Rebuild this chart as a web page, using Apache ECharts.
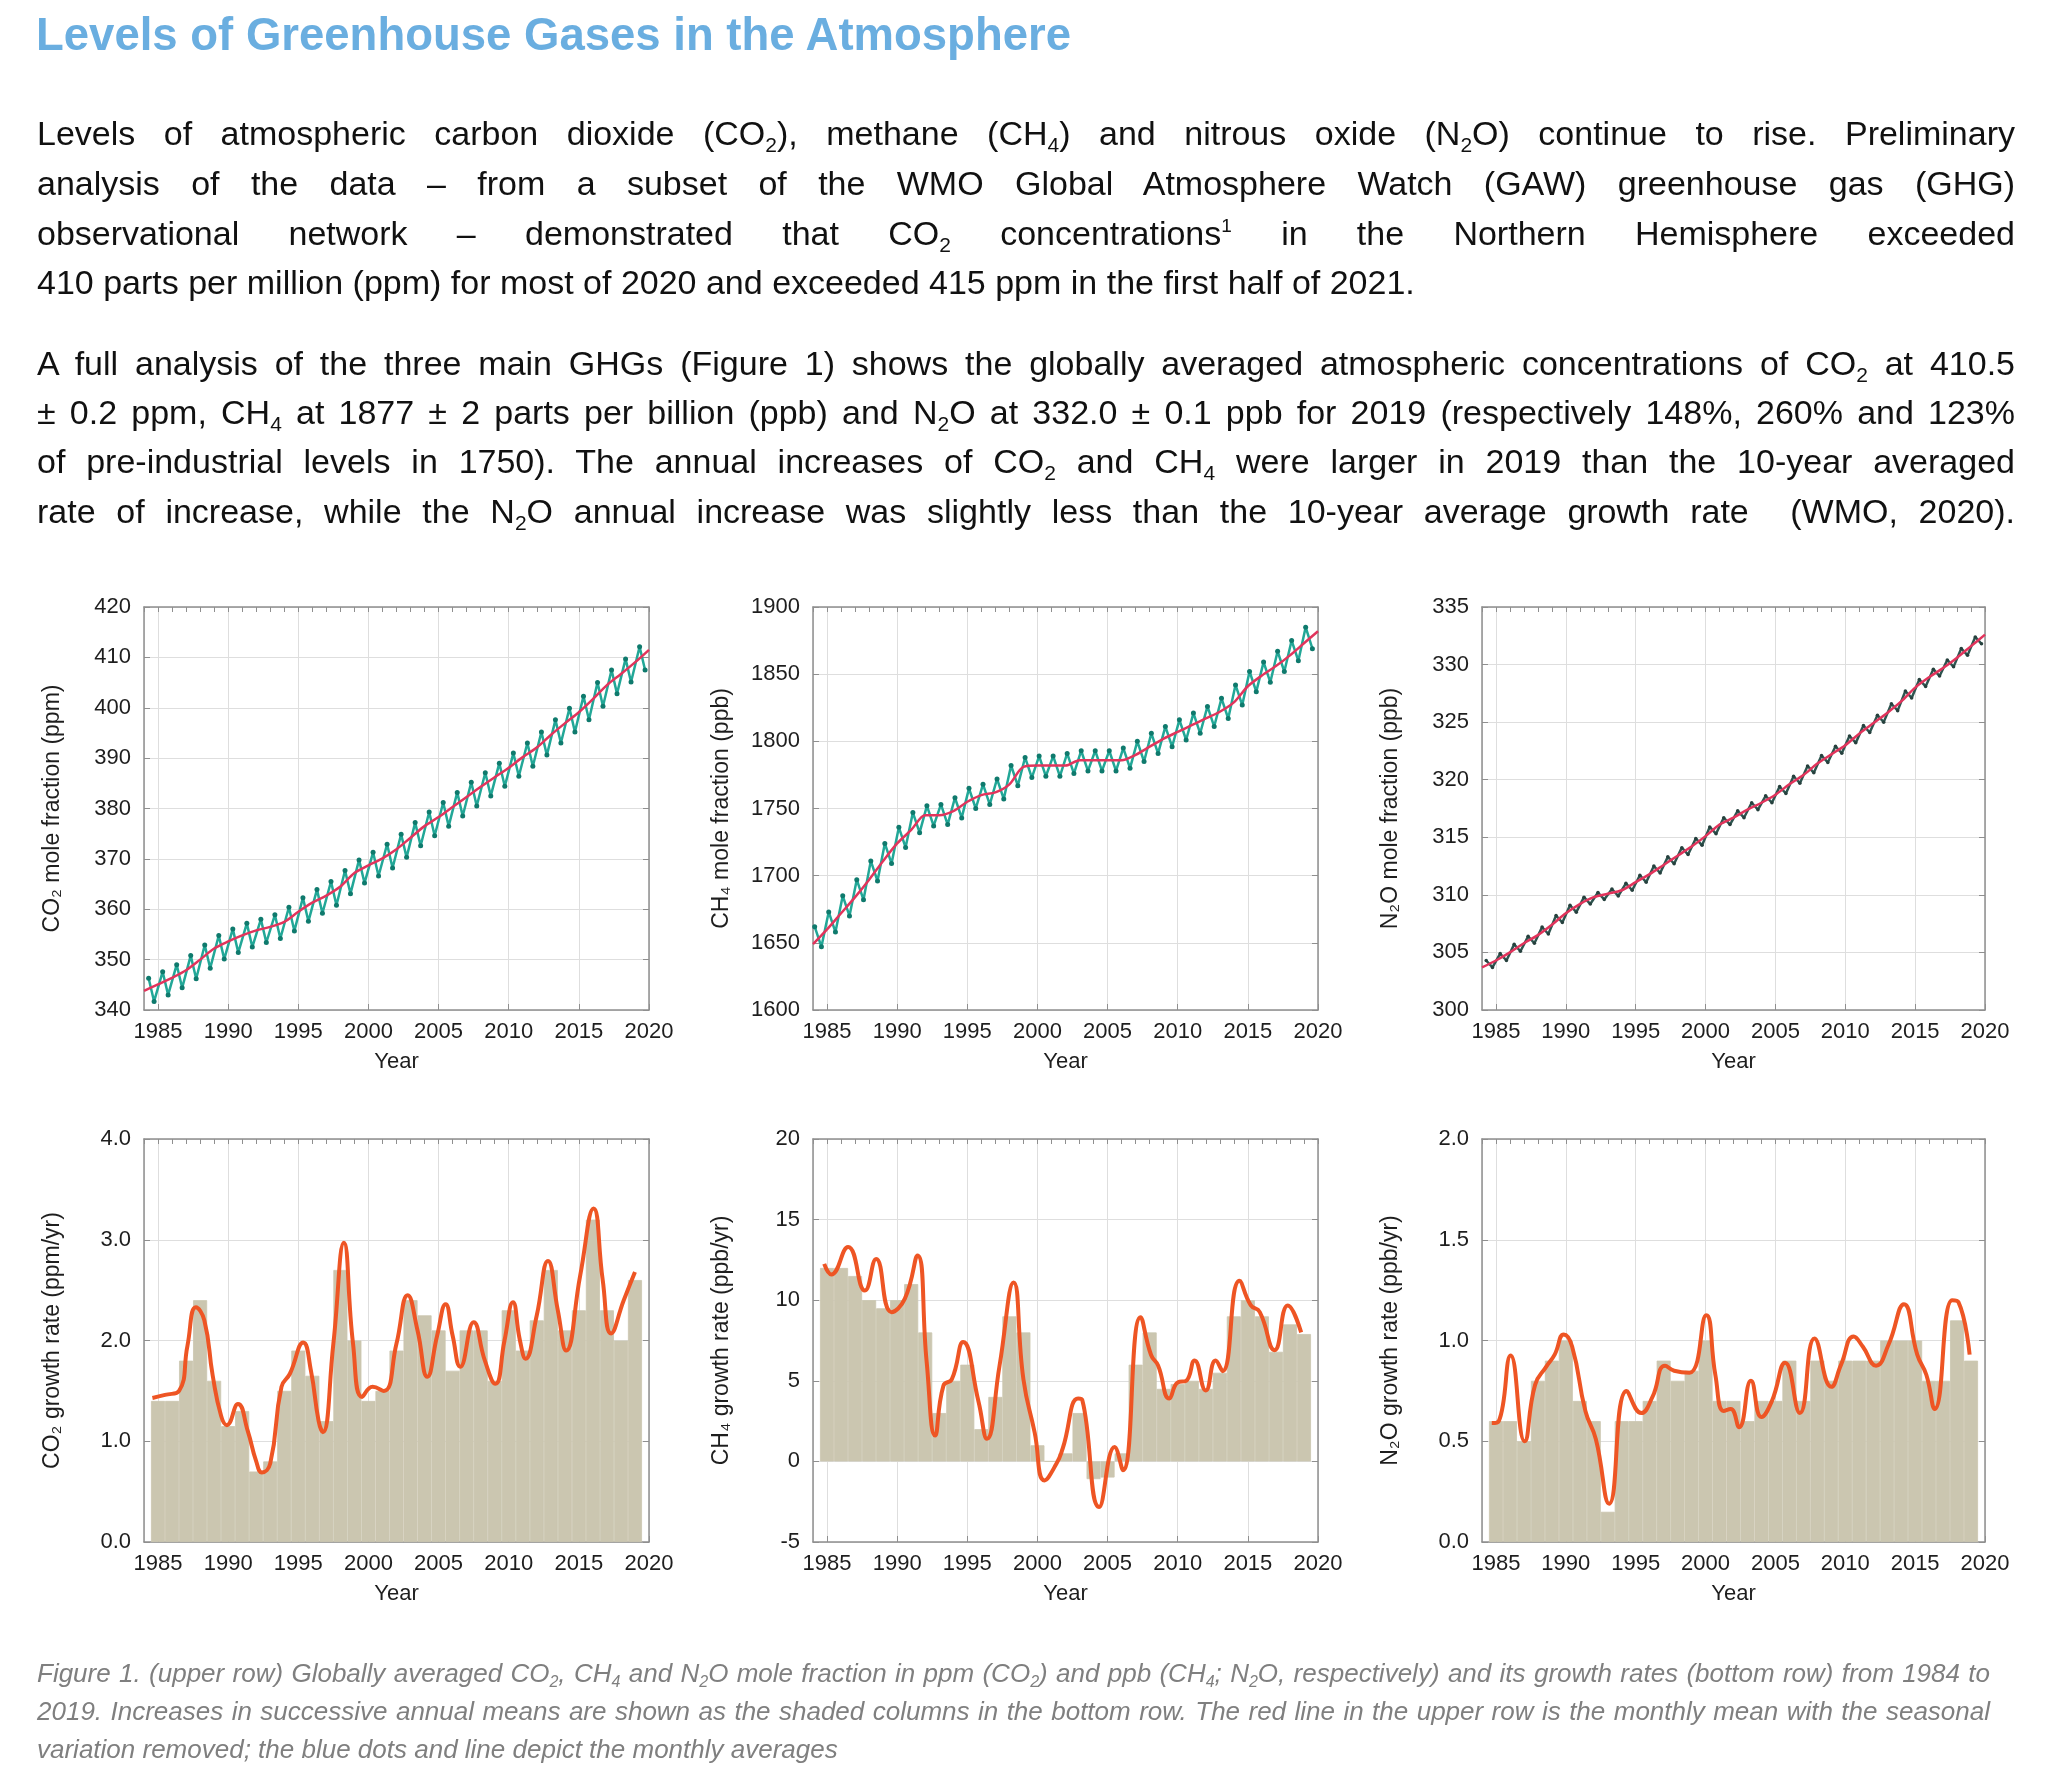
<!DOCTYPE html>
<html><head><meta charset="utf-8">
<script src="https://cdn.jsdelivr.net/npm/echarts@6/dist/echarts.min.js"></script>
<style>
html,body{margin:0;padding:0;background:#fff;}
body{width:2048px;height:1784px;position:relative;overflow:hidden;font-family:"Liberation Sans",Arial,sans-serif;}
#chart{position:absolute;left:0;top:0;width:2048px;height:1784px;}
.title{position:absolute;left:36px;top:7px;font-size:45.5px;font-weight:bold;color:#6aaee0;line-height:56px;white-space:nowrap;}
.ln{position:absolute;left:37px;width:1978px;font-size:34px;line-height:50px;color:#111;text-align:justify;text-align-last:justify;white-space:nowrap;}
.ln.l{text-align-last:left;}
.ln sub{font-size:21px;line-height:0;vertical-align:-7px;}
.ln sup{font-size:19px;line-height:0;vertical-align:13px;}
.cap{position:absolute;left:37px;width:1953px;font-size:26px;line-height:38px;color:#7f7f7f;font-style:italic;text-align:justify;text-align-last:justify;white-space:nowrap;}
.cap.l{text-align-last:left;}
.cap sub{font-size:16px;line-height:0;vertical-align:-5px;}
</style>
</head><body>
<div id="chart"></div>
<div class="title">Levels of Greenhouse Gases in the Atmosphere</div>
<div class="ln" style="top:108px">Levels of atmospheric carbon dioxide (CO<sub>2</sub>), methane (CH<sub>4</sub>) and nitrous oxide (N<sub>2</sub>O) continue to rise. Preliminary</div>
<div class="ln" style="top:158px">analysis of the data – from a subset of the WMO Global Atmosphere Watch (GAW) greenhouse gas (GHG)</div>
<div class="ln" style="top:208px">observational network – demonstrated that CO<sub>2</sub> concentrations<sup>1</sup> in the Northern Hemisphere exceeded</div>
<div class="ln l" style="top:257px">410 parts per million (ppm) for most of 2020 and exceeded 415 ppm in the first half of 2021.</div>
<div class="ln" style="top:338px">A full analysis of the three main GHGs (Figure 1) shows the globally averaged atmospheric concentrations of CO<sub>2</sub> at 410.5</div>
<div class="ln" style="top:387px">± 0.2 ppm, CH<sub>4</sub> at 1877 ± 2 parts per billion (ppb) and N<sub>2</sub>O at 332.0 ± 0.1 ppb for 2019 (respectively 148%, 260% and 123%</div>
<div class="ln" style="top:436px">of pre-industrial levels in 1750). The annual increases of CO<sub>2</sub> and CH<sub>4</sub> were larger in 2019 than the 10-year averaged</div>
<div class="ln" style="top:486px">rate of increase, while the N<sub>2</sub>O annual increase was slightly less than the 10-year average growth rate &nbsp;(WMO, 2020).</div>
<div class="cap" style="top:1654px">Figure 1. (upper row) Globally averaged CO<sub>2</sub>, CH<sub>4</sub> and N<sub>2</sub>O mole fraction in ppm (CO<sub>2</sub>) and ppb (CH<sub>4</sub>; N<sub>2</sub>O, respectively) and its growth rates (bottom row) from 1984 to</div>
<div class="cap" style="top:1692px">2019. Increases in successive annual means are shown as the shaded columns in the bottom row. The red line in the upper row is the monthly mean with the seasonal</div>
<div class="cap l" style="top:1730px">variation removed; the blue dots and line depict the monthly averages</div>
<script>
// ---------- data ----------
const trendYears = [1984,1985,1986,1987,1988,1989,1990,1991,1992,1993,1994,1995,1996,1997,1998,1999,2000,2001,2002,2003,2004,2005,2006,2007,2008,2009,2010,2011,2012,2013,2014,2015,2016,2017,2018,2019,2020];
const cycleYears = [1984,1985,1986,1987,1988,1989,1990,1991,1992,1993,1994,1995,1996,1997,1998,1999,2000,2001,2002,2003,2004,2005,2006,2007,2008,2009,2010,2011,2012,2013,2014,2015,2016,2017,2018,2019];
const barYears = [1985,1986,1987,1988,1989,1990,1991,1992,1993,1994,1995,1996,1997,1998,1999,2000,2001,2002,2003,2004,2005,2006,2007,2008,2009,2010,2011,2012,2013,2014,2015,2016,2017,2018,2019];

// CO2 (ppm)
const co2Trend = [343.8,345.1,346.4,347.9,350.0,352.2,353.6,354.8,355.8,356.5,357.5,359.5,361.3,362.7,364.5,367.2,368.7,370.1,371.9,374.2,376.5,378.3,380.3,382.3,384.3,386.2,388.1,390.2,392.1,394.6,396.9,399.1,401.7,404.5,406.7,409.0,411.5];
const co2Peak = [346.3,347.6,349.0,350.8,352.9,354.8,356.1,357.2,358.0,358.9,360.4,362.3,363.9,365.5,367.7,369.8,371.3,372.9,374.9,377.2,379.3,381.2,383.2,385.2,387.1,389.0,391.0,393.0,395.2,397.6,399.9,402.3,405.0,407.5,409.7,412.1];
const co2Trough = [341.7,343.0,344.4,346.2,348.3,350.1,351.4,352.5,353.4,354.2,355.7,357.6,359.2,360.8,363.1,365.2,366.6,368.2,370.3,372.6,374.6,376.5,378.5,380.5,382.5,384.4,386.4,388.4,390.6,393.0,395.2,397.6,400.3,402.8,405.1,407.5];

// CH4 (ppb)
const ch4Trend = [1649,1660,1672,1684,1697,1711,1724,1734,1745,1745,1748,1755,1760,1762,1768,1781,1782,1782,1782,1786,1786,1786,1786,1790,1796,1802,1807,1812,1817,1822,1829,1841,1849,1856,1864,1873,1882];
const ch4Peak = [1662,1673,1685,1697,1711,1724,1736,1747,1752,1753,1758,1765,1768,1772,1782,1788,1789,1789,1791,1793,1793,1793,1795,1800,1806,1811,1816,1821,1826,1832,1842,1852,1859,1867,1875,1885];
const ch4Trough = [1647,1658,1670,1682,1696,1709,1721,1732,1737,1738,1743,1750,1753,1757,1767,1773,1774,1774,1776,1778,1778,1778,1780,1785,1791,1796,1801,1806,1811,1817,1827,1837,1844,1852,1860,1869];

// N2O (ppb)
const n2oTrend = [303.7,304.3,305.0,305.8,306.5,307.4,308.4,309.2,309.8,310.1,310.4,311.1,311.8,312.6,313.4,314.2,315.1,316.1,316.7,317.4,318.0,318.7,319.6,320.4,321.4,322.2,323.0,324.0,324.9,325.8,326.8,328.0,328.9,329.7,330.6,331.6,332.6];
const n2oPeak = [304.3,304.9,305.7,306.4,307.2,308.2,309.1,309.8,310.2,310.5,311.0,311.7,312.5,313.3,314.1,314.9,315.9,316.7,317.3,318.0,318.6,319.4,320.3,321.2,322.1,322.9,323.8,324.7,325.6,326.6,327.7,328.7,329.6,330.4,331.4,332.4];
const n2oTrough = [303.7,304.3,305.1,305.8,306.6,307.6,308.5,309.2,309.6,309.9,310.4,311.1,311.9,312.7,313.5,314.3,315.3,316.1,316.7,317.4,318.0,318.8,319.7,320.6,321.5,322.3,323.2,324.1,325.0,326.0,327.1,328.1,329.0,329.8,330.8,331.8];

// growth rates: annual increases (columns) and smoothed curve (time, value)
const co2Bars = [1.4,1.4,1.8,2.4,1.6,1.15,1.3,0.7,0.8,1.5,1.9,1.65,1.2,2.7,2.0,1.4,1.5,1.9,2.4,2.25,2.1,1.7,2.1,2.1,1.6,2.3,1.9,2.2,2.7,2.1,2.3,3.2,2.3,2.0,2.6];
const co2RateT = [1984.6,1985.5,1986.5,1987.1,1987.7,1988.3,1988.9,1989.5,1989.9,1990.7,1991.4,1992.0,1992.4,1993.0,1993.8,1994.4,1995.35,1995.9,1996.45,1996.75,1997.5,1998.25,1998.9,1999.55,2000.3,2001.1,2002.0,2002.8,2003.5,2004.2,2004.9,2005.5,2006.0,2006.55,2007.5,2008.3,2009.05,2009.7,2010.3,2010.8,2011.2,2012.0,2012.8,2013.5,2014.1,2015.1,2016.05,2016.7,2017.3,2018.2,2019.0];
const co2RateV = [1.43,1.46,1.5,1.95,2.33,2.2,1.65,1.25,1.16,1.37,1.1,0.8,0.69,0.78,1.54,1.67,1.98,1.7,1.2,1.09,1.97,2.97,1.97,1.44,1.54,1.5,1.97,2.45,2.1,1.64,2.05,2.36,2.05,1.74,2.18,1.8,1.57,2.0,2.38,2.0,1.82,2.25,2.79,2.3,1.9,2.65,3.31,2.6,2.07,2.4,2.68];

const ch4Bars = [12,12,11.5,10,9.5,10,11,8,3,5,6,2,4,9,8,1,0,0.5,3,-1.1,-1.0,0.5,6,8,4.5,4.8,5,4.5,5.5,9,10,9,6.8,8.5,7.9];
const ch4RateT = [1984.8,1985.3,1986.5,1987.7,1988.5,1989.6,1990.55,1991.45,1992.1,1992.7,1993.3,1993.9,1994.7,1995.8,1996.4,1997.3,1998.3,1999.0,1999.8,2000.5,2001.35,2001.8,2002.9,2003.2,2004.4,2005.5,2006.1,2007.35,2008.1,2008.6,2009.4,2010.0,2010.6,2011.2,2012.0,2012.7,2013.2,2014.4,2015.2,2015.85,2016.9,2017.85,2018.8];
const ch4RateV = [12.25,11.6,13.3,10.6,12.56,9.26,10.1,12.77,6.2,1.6,4.7,5.1,7.4,3.7,1.4,5.95,11.1,5.1,1.8,-1.18,-0.15,0.8,3.9,3.8,-2.83,0.9,-0.55,8.95,6.6,5.95,3.9,4.9,5.0,6.26,4.4,6.26,5.6,11.2,9.7,9.26,6.9,9.67,8.0];

const n2oBars = [0.6,0.6,0.5,0.8,0.9,1.0,0.7,0.6,0.15,0.6,0.6,0.7,0.9,0.8,0.85,1.0,0.7,0.7,0.6,0.7,0.7,0.9,0.7,0.9,0.8,0.9,0.9,0.9,1.0,1.0,1.0,0.8,0.8,1.1,0.9];
const n2oRateT = [1984.7,1985.2,1986.05,1987.05,1987.8,1988.6,1989.2,1989.85,1990.45,1991.4,1992.15,1993.1,1994.35,1995.4,1996.2,1997.1,1997.75,1998.85,2000.05,2000.7,2001.3,2001.8,2002.4,2003.25,2004.0,2004.75,2005.7,2006.75,2007.8,2009.0,2009.7,2010.6,2011.25,2012.2,2013.1,2014.2,2015.15,2015.8,2016.4,2017.65,2018.1,2018.9];
const n2oRateV = [0.59,0.6,0.925,0.5,0.78,0.87,0.93,1.03,0.97,0.65,0.51,0.19,0.75,0.64,0.72,0.875,0.85,0.84,1.125,0.83,0.65,0.66,0.57,0.8,0.62,0.70,0.89,0.64,1.01,0.77,0.88,1.02,0.97,0.875,0.98,1.18,0.93,0.83,0.66,1.2,1.19,0.93];

// ---------- chart ----------
const FONT = '"Liberation Sans", Arial, sans-serif';
const AX = '#8f8f8f', GRIDC = '#dedede', TXT = '#1e1e1e';
const lefts = [144, 813, 1482], widths = [505, 505, 503];
const tops = [607, 1139], H = 403;
const panels = [
  {row:0,col:0,min:340,max:420,interval:10,dec:0,name:'CO₂ mole fraction (ppm)'},
  {row:0,col:1,min:1600,max:1900,interval:50,dec:0,name:'CH₄ mole fraction (ppb)'},
  {row:0,col:2,min:300,max:335,interval:5,dec:0,name:'N₂O mole fraction (ppb)'},
  {row:1,col:0,min:0,max:4,interval:1,dec:1,name:'CO₂ growth rate (ppm/yr)'},
  {row:1,col:1,min:-5,max:20,interval:5,dec:0,name:'CH₄ growth rate (ppb/yr)'},
  {row:1,col:2,min:0,max:2,interval:0.5,dec:1,name:'N₂O growth rate (ppb/yr)'}
];
const grid = [], xAxis = [], yAxis = [], series = [];
panels.forEach((p, i) => {
  grid.push({left: lefts[p.col], top: tops[p.row], width: widths[p.col], height: H, containLabel: false});
  xAxis.push({gridIndex:i, type:'value', position:'bottom', min:1984, max:2020, splitNumber:7,
    axisLine:{show:true, onZero:false, lineStyle:{color:AX, width:1.5}},
    axisTick:{show:true, inside:true, length:6, lineStyle:{color:AX}},
    axisLabel:{showMinLabel:false, margin:11, fontSize:22, color:TXT, fontFamily:FONT, formatter: v => String(v)},
    splitLine:{show:true, lineStyle:{color:GRIDC, width:1}},
    name:'Year', nameLocation:'middle', nameGap:41,
    nameTextStyle:{fontSize:22, color:TXT, fontFamily:FONT}});
  xAxis.push({gridIndex:i, type:'value', position:'top', min:1984, max:2020, interval:1,
    axisLine:{show:true, onZero:false, lineStyle:{color:AX, width:1.5}},
    axisTick:{show:true, inside:true, length:5, lineStyle:{color:AX}},
    axisLabel:{show:false}, splitLine:{show:false}});
  yAxis.push({gridIndex:i, type:'value', min:p.min, max:p.max, interval:p.interval,
    axisLine:{show:true, onZero:false, lineStyle:{color:AX, width:1.5}},
    axisTick:{show:true, inside:true, length:6, lineStyle:{color:AX}},
    axisLabel:{margin:13, fontSize:22, color:TXT, fontFamily:FONT, formatter: v => v.toFixed(p.dec)},
    splitLine:{show:true, lineStyle:{color:GRIDC, width:1}},
    name:p.name, nameLocation:'middle', nameGap:80, nameRotate:90,
    nameTextStyle:{fontSize:23, color:TXT, fontFamily:FONT}});
  yAxis.push({gridIndex:i, type:'value', position:'right', min:p.min, max:p.max, interval:p.interval,
    axisLine:{show:true, onZero:false, lineStyle:{color:AX, width:1.5}},
    axisTick:{show:true, inside:true, length:6, lineStyle:{color:AX}},
    axisLabel:{show:false}, splitLine:{show:false}});
});

function cycle(peak, trough, pOff, tOff) {
  const out = [];
  cycleYears.forEach((y, i) => { out.push([y + pOff, peak[i]]); out.push([y + tOff, trough[i]]); });
  return out;
}
const tops3 = [
  {trend: co2Trend, peak: co2Peak, trough: co2Trough, pOff: 0.33, tOff: 0.72, tealLine:'#22a797', tealDot:'#0f7a6d', sym:5},
  {trend: ch4Trend, peak: ch4Peak, trough: ch4Trough, pOff: 0.12, tOff: 0.6, tealLine:'#22a797', tealDot:'#0f7a6d', sym:5},
  {trend: n2oTrend, peak: n2oPeak, trough: n2oTrough, pOff: 0.3, tOff: 0.75, tealLine:'#2e5550', tealDot:'#26403d', sym:3.5}
];
tops3.forEach((g, i) => {
  series.push({type:'line', xAxisIndex:2*i, yAxisIndex:2*i, data: cycle(g.peak, g.trough, g.pOff, g.tOff),
    symbol:'circle', symbolSize:g.sym, showSymbol:true, lineStyle:{color:g.tealLine, width:2.5}, itemStyle:{color:g.tealDot}, z:2});
  series.push({type:'line', xAxisIndex:2*i, yAxisIndex:2*i, data: trendYears.map((y, j) => [y, g.trend[j]]),
    smooth:0.3, symbol:'none', lineStyle:{color:'#e2345c', width:2.5}, z:3});
});
const bottoms3 = [
  {bars: co2Bars, t: co2RateT, v: co2RateV},
  {bars: ch4Bars, t: ch4RateT, v: ch4RateV},
  {bars: n2oBars, t: n2oRateT, v: n2oRateV}
];
bottoms3.forEach((g, k) => {
  const i = k + 3;
  series.push({type:'bar', xAxisIndex:2*i, yAxisIndex:2*i, data: barYears.map((y, j) => [y, g.bars[j]]),
    barWidth:'100%', itemStyle:{color:'#cbc6b0', borderColor:'#cbc6b0', borderWidth:0.8}, z:1});
  series.push({type:'line', xAxisIndex:2*i, yAxisIndex:2*i, data: g.t.map((t, j) => [t, g.v[j]]),
    smooth:0.5, symbol:'none', lineStyle:{color:'#ee5524', width:4}, z:3});
});

const chart = echarts.init(document.getElementById('chart'), null, {renderer:'canvas'});
chart.setOption({animation:false, backgroundColor:'transparent', grid, xAxis, yAxis, series});
</script>
</body></html>
